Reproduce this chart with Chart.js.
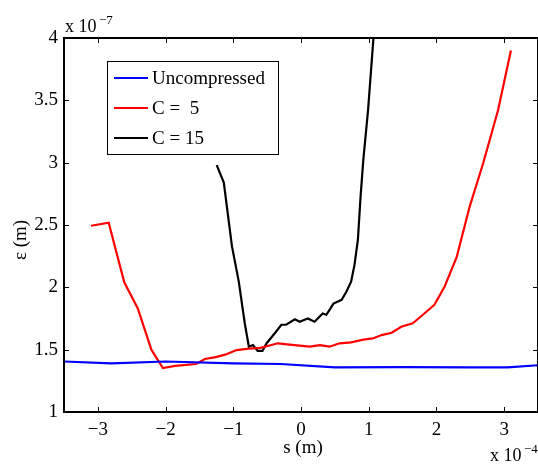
<!DOCTYPE html>
<html>
<head>
<meta charset="utf-8">
<script src="https://cdn.jsdelivr.net/npm/chart.js@4.4.1/dist/chart.umd.min.js"></script>
<style>
  html, body { margin: 0; padding: 0; background: #fff; }
  canvas { display: block; }
</style>
</head>
<body>
<canvas id="emitChart" width="538" height="465"></canvas>
<script>
// --- DATA (s in units of 1e-4 m, emittance in units of 1e-7 m) ---
const seriesNames = ["Uncompressed", "C =  5", "C = 15"];

const blueS = [-3.5, -2.8, -2.0, -1.0, -0.3, 0.5, 1.5, 2.5, 3.05, 3.5];
const blueE = [1.405, 1.39, 1.405, 1.39, 1.385, 1.358, 1.36, 1.358, 1.358, 1.375];

const redS = [-3.10, -2.84, -2.61, -2.41, -2.21, -2.04, -1.86, -1.55, -1.42, -1.26, -1.12, -0.95, -0.77, -0.60,
              -0.34, -0.06, 0.13, 0.28, 0.42, 0.57, 0.74, 0.92, 1.06, 1.19, 1.34, 1.48, 1.65, 1.80, 1.97,
              2.12, 2.30, 2.49, 2.69, 2.91, 3.10];
const redE = [2.494, 2.518, 2.04, 1.83, 1.50, 1.353, 1.37, 1.385, 1.425, 1.44, 1.46, 1.497, 1.508, 1.515,
              1.551, 1.535, 1.524, 1.537, 1.524, 1.551, 1.559, 1.58, 1.59, 1.617, 1.636, 1.684, 1.711, 1.78, 1.86,
              2.005, 2.245, 2.646, 2.995, 3.42, 3.90];

const blackS = [-1.245, -1.14, -1.02, -0.92, -0.83, -0.77, -0.71, -0.64, -0.57, -0.51, -0.39, -0.29, -0.22,
                -0.09, -0.02, 0.10, 0.20, 0.32, 0.375, 0.48, 0.60, 0.67, 0.74, 0.79, 0.84, 0.88, 0.92, 0.99, 1.07, 1.12];
const blackE = [2.98, 2.84, 2.33, 2.05, 1.71, 1.524, 1.537, 1.49, 1.49, 1.55, 1.63, 1.70, 1.70,
                1.743, 1.724, 1.75, 1.724, 1.79, 1.78, 1.87, 1.90, 1.965, 2.045, 2.18, 2.38, 2.73, 3.02, 3.42, 4.0, 4.4];

const xTicks = [-3, -2, -1, 0, 1, 2, 3];
const yTicks = [1, 1.5, 2, 2.5, 3, 3.5, 4];

const FONT = "'Liberation Serif', 'DejaVu Serif', serif";
const colors = ['#0000ff', '#ff0000', '#000000'];

function toPoints(xs, ys) {
    return xs.map((x, i) => ({ x: x, y: ys[i] }));
}

function minusFmt(v) {
    return v < 0 ? '\u2212' + (-v) : String(v);
}

// box, inward ticks, legend and axis texts, MATLAB style
const matlabAxes = {
    id: 'matlabAxes',
    afterDraw(chart) {
        const { ctx, chartArea: a, scales: { x, y } } = chart;
        ctx.save();

        // ticks (inward, on all four sides)
        ctx.strokeStyle = '#000';
        ctx.lineWidth = 1;
        ctx.beginPath();
        xTicks.forEach(v => {
            const px = Math.round(x.getPixelForValue(v)) + 0.5;
            ctx.moveTo(px, a.bottom); ctx.lineTo(px, a.bottom - 5);
            ctx.moveTo(px, a.top); ctx.lineTo(px, a.top + 5);
        });
        yTicks.forEach(v => {
            const py = Math.round(y.getPixelForValue(v)) + 0.5;
            ctx.moveTo(a.left, py); ctx.lineTo(a.left + 5, py);
            ctx.moveTo(a.right, py); ctx.lineTo(a.right - 5, py);
        });
        ctx.stroke();

        // box
        ctx.lineWidth = 2;
        ctx.strokeRect(a.left, a.top, a.right - a.left, a.bottom - a.top);

        // legend
        const lx = 107.5, ly = 61.5, lw = 171, lh = 93;
        ctx.fillStyle = '#fff';
        ctx.fillRect(lx, ly, lw, lh);
        ctx.lineWidth = 1;
        ctx.strokeStyle = '#000';
        ctx.strokeRect(lx, ly, lw, lh);
        ctx.font = '19px ' + FONT;
        ctx.textBaseline = 'middle';
        ctx.textAlign = 'left';
        seriesNames.forEach((name, i) => {
            const ry = 78 + i * 30;
            ctx.strokeStyle = colors[i];
            ctx.lineWidth = 2;
            ctx.beginPath();
            ctx.moveTo(114, ry); ctx.lineTo(148, ry);
            ctx.stroke();
            ctx.fillStyle = '#000';
            ctx.fillText(name, 152, ry + 1);
        });

        // axis titles and multipliers
        ctx.fillStyle = '#000';
        ctx.textBaseline = 'alphabetic';
        ctx.font = '19px ' + FONT;
        ctx.textAlign = 'center';
        ctx.fillText('s (m)', 303, 453);

        ctx.save();
        ctx.translate(26, 240);
        ctx.rotate(-Math.PI / 2);
        ctx.fillText('\u03b5 (m)', 0, 0);
        ctx.restore();

        ctx.textAlign = 'left';
        ctx.font = '18px ' + FONT;
        ctx.fillText('x 10', 65, 32);
        ctx.fillText('x 10', 490, 461);
        ctx.font = '13px ' + FONT;
        ctx.fillText('\u22127', 99, 24);
        ctx.fillText('\u22124', 524, 453);

        ctx.restore();
    }
};

new Chart(document.getElementById('emitChart'), {
    type: 'line',
    data: {
        datasets: [
            { label: seriesNames[0], data: toPoints(blueS, blueE), borderColor: colors[0] },
            { label: seriesNames[1], data: toPoints(redS, redE), borderColor: colors[1] },
            { label: seriesNames[2], data: toPoints(blackS, blackE), borderColor: colors[2] }
        ]
    },
    options: {
        responsive: false,
        animation: false,
        elements: {
            line: { borderWidth: 2.2, tension: 0, fill: false },
            point: { radius: 0, hoverRadius: 0 }
        },
        layout: { padding: { top: 38, right: 0, left: 0, bottom: 0 } },
        plugins: { legend: { display: false }, tooltip: { enabled: false } },
        scales: {
            x: {
                type: 'linear',
                min: -3.5,
                max: 3.5,
                grid: { display: false, drawTicks: false },
                border: { display: false },
                afterBuildTicks: s => { s.ticks = xTicks.map(v => ({ value: v })); },
                afterFit: s => { s.height = 53; },
                ticks: {
                    color: '#000',
                    padding: 7,
                    maxRotation: 0,
                    font: { family: FONT, size: 19 },
                    callback: v => minusFmt(v)
                }
            },
            y: {
                type: 'linear',
                min: 1,
                max: 4,
                grid: { display: false, drawTicks: false },
                border: { display: false },
                afterBuildTicks: s => { s.ticks = yTicks.map(v => ({ value: v })); },
                afterFit: s => { s.width = 64; },
                ticks: {
                    color: '#000',
                    padding: 6,
                    font: { family: FONT, size: 19 },
                    callback: v => String(v)
                }
            }
        }
    },
    plugins: [matlabAxes]
});
</script>
</body>
</html>
